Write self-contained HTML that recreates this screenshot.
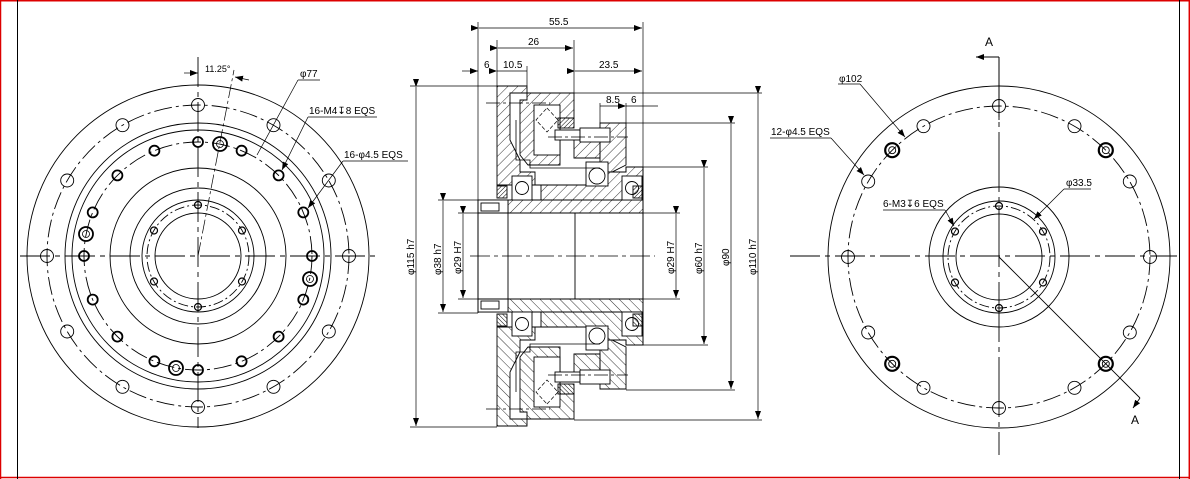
<!DOCTYPE html>
<html><head><meta charset="utf-8"><style>
html,body{margin:0;padding:0;background:#fff;}
svg{display:block;font-family:"Liberation Sans",sans-serif;}
text{font-size:10px;fill:#000;}
</style></head><body>
<svg width="1190" height="479" viewBox="0 0 1190 479" xmlns="http://www.w3.org/2000/svg">
<defs>
<pattern id="h" width="7" height="7" patternUnits="userSpaceOnUse" patternTransform="rotate(45)">
<line x1="0" y1="0" x2="0" y2="7" stroke="#000" stroke-width="0.8"/></pattern>
<pattern id="hd" width="3" height="3" patternUnits="userSpaceOnUse" patternTransform="rotate(45)">
<line x1="0" y1="0" x2="0" y2="3" stroke="#000" stroke-width="1"/></pattern>
<marker id="ar" markerWidth="8" markerHeight="6" refX="8" refY="3" orient="auto" markerUnits="userSpaceOnUse">
<path d="M0,0 L8,3 L0,6 Z" fill="#000"/></marker>
</defs>
<rect x="0" y="0" width="1190" height="479" fill="#fff"/>
<!-- borders -->
<line x1="0.5" y1="0" x2="0.5" y2="479" stroke="#d00" stroke-width="1.5"/>
<line x1="0" y1="0.8" x2="1190" y2="0.8" stroke="#d00" stroke-width="1.5"/>
<line x1="0" y1="477.5" x2="1190" y2="477.5" stroke="#d00" stroke-width="1.5"/>
<line x1="1189.3" y1="0" x2="1189.3" y2="479" stroke="#d00" stroke-width="1.5"/>
<line x1="17.5" y1="0" x2="17.5" y2="479" stroke="#000" stroke-width="1"/>
<line x1="1179.5" y1="0" x2="1179.5" y2="479" stroke="#000" stroke-width="1"/>

<!-- LEFT VIEW -->
<g fill="none" stroke="#000" stroke-width="0.9">
<circle cx="198" cy="256" r="171"/>
<circle cx="198" cy="256" r="133"/>
<circle cx="198" cy="256" r="126"/>
<circle cx="198" cy="256" r="88"/>
<circle cx="198" cy="256" r="68"/>
<circle cx="198" cy="256" r="56"/>
<circle cx="198" cy="256" r="43"/>
<circle cx="198" cy="256" r="151" stroke-dasharray="18,4,3,4"/>
<circle cx="198" cy="256" r="114" stroke-dasharray="18,4,3,4"/>
<circle cx="198" cy="256" r="51" stroke-dasharray="10,3,2,3"/>
<line x1="20" y1="256" x2="378" y2="256" stroke-dasharray="30,5,5,5"/>
<line x1="198" y1="57" x2="198" y2="428" stroke-dasharray="30,5,5,5"/>
<g stroke-width="0.9">
<circle cx="198" cy="105" r="6.5"/><circle cx="273.5" cy="125.2" r="6.5"/><circle cx="328.8" cy="180.5" r="6.5"/><circle cx="349" cy="256" r="6.5"/><circle cx="328.8" cy="331.5" r="6.5"/><circle cx="273.5" cy="386.8" r="6.5"/><circle cx="198" cy="407" r="6.5"/><circle cx="122.5" cy="386.8" r="6.5"/><circle cx="67.2" cy="331.5" r="6.5"/><circle cx="47" cy="256" r="6.5"/><circle cx="67.2" cy="180.5" r="6.5"/><circle cx="122.5" cy="125.2" r="6.5"/>
</g>
<g stroke-width="1.8">
<circle cx="198" cy="142" r="5"/><circle cx="241.6" cy="150.7" r="5"/><circle cx="278.6" cy="175.4" r="5"/><circle cx="303.3" cy="212.4" r="5"/><circle cx="312" cy="256" r="5"/><circle cx="303.3" cy="299.6" r="5"/><circle cx="278.6" cy="336.6" r="5"/><circle cx="241.6" cy="361.3" r="5"/><circle cx="198" cy="370" r="5"/><circle cx="154.4" cy="361.3" r="5"/><circle cx="117.4" cy="336.6" r="5"/><circle cx="92.7" cy="299.6" r="5"/><circle cx="84" cy="256" r="5"/><circle cx="92.7" cy="212.4" r="5"/><circle cx="117.4" cy="175.4" r="5"/><circle cx="154.4" cy="150.7" r="5"/>
<circle cx="220" cy="144" r="7"/><circle cx="86" cy="234" r="7"/><circle cx="310" cy="279" r="7"/><circle cx="176" cy="368" r="7"/>
</g>
<g stroke-width="0.8">
<circle cx="220" cy="144" r="3.5"/><circle cx="86" cy="234" r="3.5"/><circle cx="310" cy="279" r="3.5"/><circle cx="176" cy="368" r="3.5"/>
</g>
<g stroke-width="1.2">
<circle cx="198" cy="205" r="3.5"/><circle cx="242" cy="230.5" r="3.5"/><circle cx="242" cy="281.5" r="3.5"/><circle cx="198" cy="307" r="3.5"/><circle cx="154" cy="281.5" r="3.5"/><circle cx="154" cy="230.5" r="3.5"/>
</g>
<!-- leaders -->
<line x1="198" y1="256" x2="234" y2="70" stroke-dasharray="14,3,3,3" stroke-width="0.7"/>
<line x1="184" y1="73" x2="198" y2="73" marker-end="url(#ar)" stroke-width="0.7"/>
<line x1="249" y1="80" x2="235" y2="77" marker-end="url(#ar)" stroke-width="0.7"/>
<line x1="298" y1="80" x2="320" y2="80" stroke-width="0.7"/>
<line x1="298" y1="80" x2="257" y2="155" stroke-width="0.7"/>
<line x1="308" y1="117" x2="377" y2="117" stroke-width="0.7"/>
<line x1="308" y1="117" x2="282" y2="170" marker-end="url(#ar)" stroke-width="0.7"/>
<line x1="343" y1="161" x2="408" y2="161" stroke-width="0.7"/>
<line x1="343" y1="161" x2="308" y2="208" marker-end="url(#ar)" stroke-width="0.7"/>
</g>
<text x="205" y="72" style="font-size:9px">11.25°</text>
<text x="300" y="77">φ77</text>
<text x="309" y="114">16-M4↧8 EQS</text>
<text x="344" y="158">16-φ4.5 EQS</text>

<!-- MIDDLE SECTION -->
<g stroke="#000" stroke-width="0.9">
<g id="top">
<path d="M497,86 H527 V93 H510 V140 L520,160 V172 H535 V185 H497 Z" fill="url(#h)"/>
<path d="M527,93 H574 V118 H560 V165 H528 L520,155 V100 H527 Z" fill="url(#h)"/>
<rect x="534" y="105" width="26" height="50" fill="#fff"/>
<path d="M600,123 H626 V165 L612,172 H600 Z" fill="url(#h)"/>
<path d="M574,130 H600 V158 H574 Z" fill="url(#h)"/>
<path d="M527,185 H600 V172 H626 V167 H643 V200 H478 V213 H643 V200" fill="none"/>
<path d="M541,185 H600 V172 H626 V167 H643 V213 H508 V200 H541 Z" fill="url(#h)"/>
<rect x="478" y="200" width="30" height="13" fill="#fff"/>
<rect x="481" y="203" width="18" height="8" fill="#fff"/>
<rect x="512" y="176" width="20" height="24" fill="#fff"/><circle cx="522" cy="188" r="6.5" fill="#fff"/>
<rect x="586" y="162" width="22" height="24" fill="#fff"/><circle cx="597" cy="176" r="8" fill="#fff"/>
<rect x="622" y="176" width="20" height="24" fill="#fff"/><circle cx="632" cy="188" r="6.5" fill="#fff"/>
<rect x="497" y="186" width="10" height="12" fill="url(#hd)"/>
<rect x="633" y="186" width="10" height="12" fill="url(#hd)"/>
<rect x="558" y="118" width="16" height="10" fill="url(#hd)"/>
<rect x="555" y="130" width="25" height="10" fill="#fff"/>
<rect x="580" y="128" width="30" height="14" fill="#fff"/>
<path d="M516,120 V160 H530 V168 H600" fill="none" stroke-width="0.8"/>
<line x1="486" y1="103" x2="550" y2="103" stroke-dasharray="14,3,3,3" stroke-width="0.7"/>
<line x1="548" y1="137" x2="628" y2="137" stroke-dasharray="14,3,3,3" stroke-width="0.7"/>
<path d="M547,108 L558,120 L547,132 L536,120 Z" fill="none" stroke-dasharray="4,2" stroke-width="0.7"/>
</g>
<use href="#top" transform="translate(0,512) scale(1,-1)"/>
<rect x="478" y="213" width="165" height="86" fill="#fff"/>
<line x1="478" y1="213" x2="643" y2="213"/>
<line x1="478" y1="299" x2="643" y2="299"/>
<line x1="478" y1="200" x2="478" y2="313"/>
<line x1="643" y1="167" x2="643" y2="345"/>
<line x1="508" y1="213" x2="508" y2="299"/>
<line x1="575" y1="213" x2="575" y2="299"/>
<line x1="470" y1="256" x2="655" y2="256" stroke-dasharray="20,4,4,4" stroke-width="0.7"/>
</g>
<!-- dimensions -->
<g stroke="#000" stroke-width="0.7" fill="none">
<line x1="478" y1="22" x2="478" y2="200"/>
<line x1="643" y1="22" x2="643" y2="167"/>
<line x1="497" y1="40" x2="497" y2="86"/>
<line x1="574" y1="40" x2="574" y2="93"/>
<line x1="527" y1="66" x2="527" y2="86"/>
<line x1="479" y1="28" x2="642" y2="28" marker-start="url(#ar)" marker-end="url(#ar)"/>
<line x1="498" y1="48" x2="573" y2="48" marker-start="url(#ar)" marker-end="url(#ar)"/>
<line x1="462" y1="71" x2="478" y2="71" marker-end="url(#ar)"/>
<line x1="497" y1="71" x2="527" y2="71" marker-start="url(#ar)"/>
<line x1="575" y1="71" x2="642" y2="71" marker-start="url(#ar)" marker-end="url(#ar)"/>
<line x1="600" y1="103" x2="600" y2="123"/>
<line x1="626" y1="103" x2="626" y2="123"/>
<line x1="600" y1="106" x2="625" y2="106"/>
<line x1="626" y1="106" x2="658" y2="106" marker-start="url(#ar)"/>
<line x1="410" y1="86" x2="497" y2="86"/><line x1="410" y1="427" x2="497" y2="427"/>
<line x1="416" y1="87" x2="416" y2="426" marker-start="url(#ar)" marker-end="url(#ar)"/>
<line x1="438" y1="200" x2="478" y2="200"/><line x1="438" y1="313" x2="478" y2="313"/>
<line x1="443" y1="201" x2="443" y2="312" marker-start="url(#ar)" marker-end="url(#ar)"/>
<line x1="458" y1="213" x2="478" y2="213"/><line x1="458" y1="299" x2="478" y2="299"/>
<line x1="463" y1="214" x2="463" y2="298" marker-start="url(#ar)" marker-end="url(#ar)"/>
<line x1="643" y1="213" x2="680" y2="213"/><line x1="643" y1="299" x2="680" y2="299"/>
<line x1="676" y1="214" x2="676" y2="298" marker-start="url(#ar)" marker-end="url(#ar)"/>
<line x1="643" y1="167" x2="708" y2="167"/><line x1="643" y1="345" x2="708" y2="345"/>
<line x1="704" y1="168" x2="704" y2="344" marker-start="url(#ar)" marker-end="url(#ar)"/>
<line x1="626" y1="123" x2="735" y2="123"/><line x1="626" y1="390" x2="735" y2="390"/>
<line x1="731" y1="124" x2="731" y2="389" marker-start="url(#ar)" marker-end="url(#ar)"/>
<line x1="574" y1="93" x2="762" y2="93"/><line x1="574" y1="420" x2="762" y2="420"/>
<line x1="758" y1="94" x2="758" y2="419" marker-start="url(#ar)" marker-end="url(#ar)"/>
</g>
<text x="549" y="25">55.5</text>
<text x="528" y="45">26</text>
<text x="484" y="68">6</text>
<text x="503" y="68">10.5</text>
<text x="599" y="68">23.5</text>
<text x="606" y="103">8.5</text>
<text x="631" y="103">6</text>
<g style="font-size:10px">
<text transform="translate(414,275) rotate(-90)">φ115 h7</text>
<text transform="translate(441,275) rotate(-90)">φ38 h7</text>
<text transform="translate(461,274) rotate(-90)">φ29 H7</text>
<text transform="translate(674,274) rotate(-90)">φ29 H7</text>
<text transform="translate(702,274) rotate(-90)">φ60 h7</text>
<text transform="translate(729,266) rotate(-90)">φ90</text>
<text transform="translate(756,275) rotate(-90)">φ110 h7</text>
</g>

<!-- RIGHT VIEW -->
<g fill="none" stroke="#000" stroke-width="0.9">
<circle cx="999" cy="257" r="171"/>
<circle cx="999" cy="257" r="151" stroke-dasharray="18,4,3,4"/>
<circle cx="999" cy="257" r="70"/>
<circle cx="999" cy="257" r="56"/>
<circle cx="999" cy="257" r="51" stroke-dasharray="10,3,2,3"/>
<circle cx="999" cy="257" r="43"/>
<line x1="790" y1="256" x2="1177" y2="256" stroke-dasharray="30,5,5,5"/>
<line x1="999" y1="57" x2="999" y2="455" stroke-dasharray="60,5,5,5"/>
<line x1="999" y1="57" x2="999" y2="120"/>
<line x1="999" y1="57" x2="976" y2="57" marker-end="url(#ar)"/>
<line x1="999" y1="257" x2="1140" y2="398"/>
<line x1="1140" y1="398" x2="1133" y2="408" marker-end="url(#ar)"/>
<circle cx="999" cy="106" r="6.5"/><circle cx="1074.5" cy="126.2" r="6.5"/><circle cx="1129.8" cy="181.5" r="6.5"/><circle cx="1150" cy="257" r="6.5"/><circle cx="1129.8" cy="332.5" r="6.5"/><circle cx="1074.5" cy="387.8" r="6.5"/><circle cx="999" cy="408" r="6.5"/><circle cx="923.5" cy="387.8" r="6.5"/><circle cx="868.2" cy="332.5" r="6.5"/><circle cx="848" cy="257" r="6.5"/><circle cx="868.2" cy="181.5" r="6.5"/><circle cx="923.5" cy="126.2" r="6.5"/>
<g stroke-width="2.2"><circle cx="1105.8" cy="150.2" r="7"/><circle cx="1105.8" cy="363.8" r="7"/><circle cx="892.2" cy="363.8" r="7"/><circle cx="892.2" cy="150.2" r="7"/></g>
<g stroke-width="0.9"><circle cx="1105.8" cy="150.2" r="3.5"/><circle cx="1105.8" cy="363.8" r="3.5"/><circle cx="892.2" cy="363.8" r="3.5"/><circle cx="892.2" cy="150.2" r="3.5"/></g>
<g stroke-width="1.2"><circle cx="999" cy="206" r="3.5"/><circle cx="1043" cy="231.5" r="3.5"/><circle cx="1043" cy="282.5" r="3.5"/><circle cx="999" cy="308" r="3.5"/><circle cx="955" cy="282.5" r="3.5"/><circle cx="955" cy="231.5" r="3.5"/></g>
<g stroke-width="0.7">
<line x1="838" y1="84" x2="860" y2="84"/><line x1="860" y1="84" x2="905" y2="137" marker-end="url(#ar)"/>
<line x1="770" y1="138" x2="831" y2="138"/><line x1="831" y1="138" x2="864" y2="175" marker-end="url(#ar)"/>
<line x1="1064" y1="189" x2="1091" y2="189"/><line x1="1064" y1="189" x2="1034" y2="219" marker-end="url(#ar)"/>
<line x1="883" y1="210" x2="945" y2="210"/><line x1="945" y1="210" x2="954" y2="226" marker-end="url(#ar)"/>
</g>
</g>
<text x="839" y="82">φ102</text>
<text x="771" y="135">12-φ4.5 EQS</text>
<text x="1066" y="186">φ33.5</text>
<text x="883" y="207">6-M3↧6 EQS</text>
<text x="985" y="46" style="font-size:12px">A</text>
<text x="1131" y="424" style="font-size:12px">A</text>
</svg>
</body></html>
